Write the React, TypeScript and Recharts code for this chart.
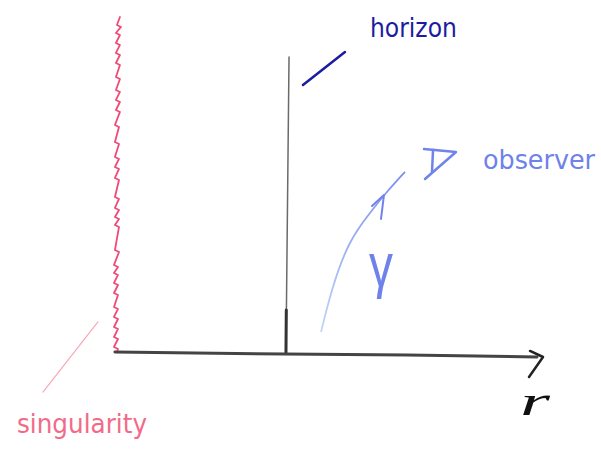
import React from 'react';
import { LineChart, Line, XAxis, YAxis, ReferenceDot } from 'recharts';

// units: r in M (horizon at r = 2), t in the same units
const rAxis = [
  { r: -0.024, t: 0 },
  { r: 1.976, t: -0.024 },
  { r: 3.412, t: -0.035 },
  { r: 4.941, t: -0.059 },
];
const rArrow = [
  { r: 4.859, t: 0.012 },
  { r: 5.012, t: -0.059 },
  { r: 4.847, t: -0.294 },
];
const horizonLine = [
  { r: 2.024, t: 3.471 },
  { r: 1.988, t: -0.012 },
];
const horizonBase = [
  { r: 1.992, t: 0.494 },
  { r: 1.988, t: -0.012 },
];
const horizonPointer = [
  { r: 2.188, t: 3.141 },
  { r: 2.682, t: 3.529 },
];
// wavy line at r = 0
const singularity = [
  { r: 0.0, t: 0.0 },
  { r: 0.012, t: 0.035 }, { r: -0.035, t: 0.059 },
  { r: 0.012, t: 0.153 }, { r: -0.035, t: 0.176 },
  { r: 0.012, t: 0.271 }, { r: -0.035, t: 0.294 },
  { r: 0.012, t: 0.388 }, { r: -0.035, t: 0.412 },
  { r: 0.012, t: 0.506 }, { r: -0.035, t: 0.529 },
  { r: 0.012, t: 0.671 }, { r: -0.035, t: 0.694 },
  { r: 0.012, t: 0.788 }, { r: -0.035, t: 0.812 },
  { r: 0.012, t: 0.906 }, { r: -0.035, t: 0.929 },
  { r: 0.012, t: 1.0 }, { r: -0.035, t: 1.024 },
  { r: 0.024, t: 1.176 }, { r: -0.024, t: 1.2 },
  { r: 0.024, t: 1.471 }, { r: -0.024, t: 1.494 },
  { r: 0.024, t: 1.565 }, { r: -0.024, t: 1.588 },
  { r: 0.024, t: 1.671 }, { r: -0.024, t: 1.694 },
  { r: 0.024, t: 1.8 }, { r: -0.024, t: 1.824 },
  { r: 0.024, t: 2.024 }, { r: -0.024, t: 2.047 },
  { r: 0.024, t: 2.153 }, { r: -0.024, t: 2.176 },
  { r: 0.024, t: 2.271 }, { r: -0.024, t: 2.294 },
  { r: 0.024, t: 2.447 }, { r: -0.024, t: 2.471 },
  { r: 0.024, t: 2.647 }, { r: -0.024, t: 2.671 },
  { r: 0.035, t: 2.824 }, { r: -0.012, t: 2.847 },
  { r: 0.035, t: 2.941 }, { r: -0.012, t: 2.965 },
  { r: 0.035, t: 3.059 }, { r: -0.012, t: 3.082 },
  { r: 0.035, t: 3.212 }, { r: -0.012, t: 3.235 },
  { r: 0.035, t: 3.376 }, { r: -0.012, t: 3.4 },
  { r: 0.035, t: 3.494 }, { r: -0.012, t: 3.518 },
  { r: 0.035, t: 3.612 }, { r: -0.012, t: 3.635 },
  { r: 0.035, t: 3.729 }, { r: -0.012, t: 3.753 },
  { r: 0.047, t: 3.824 }, { r: 0.0, t: 3.847 },
  { r: 0.035, t: 3.941 },
];
const singularityPointer = [
  { r: -0.224, t: 0.353 },
  { r: -0.871, t: -0.471 },
];
const gamma = [
  { r: 2.4, t: 0.235 },
  { r: 2.541, t: 0.765 },
  { r: 2.741, t: 1.282 },
  { r: 2.976, t: 1.635 },
  { r: 3.176, t: 1.882 },
  { r: 3.388, t: 2.118 },
];
const gammaArrow = [
  { r: 3.0, t: 1.718 },
  { r: 3.141, t: 1.847 },
  { r: 3.106, t: 1.565 },
];
const observerFlag = [
  { r: 3.612, t: 2.388 },
  { r: 3.988, t: 2.353 },
  { r: 3.624, t: 2.035 },
];
const observerStem = [
  { r: 3.718, t: 2.376 },
  { r: 3.706, t: 2.118 },
];

// text labels: anchor at start of baseline
const labels = [
  { text: 'horizon', r: 2.976, t: 3.706, color: '#1c1ca0', size: 26, len: 87, font: 'DejaVu Sans', italic: false },
  { text: 'observer', r: 4.306, t: 2.153, color: '#6e82ea', size: 26, len: 112, font: 'DejaVu Sans', italic: false },
  { text: 'singularity', r: -1.176, t: -0.953, color: '#f36a88', size: 26, len: 130, font: 'DejaVu Sans', italic: false },
  { text: 'γ', r: 2.965, t: 0.776, color: '#6e82ea', size: 62, len: 24, font: 'Liberation Sans', italic: false },
  { text: 'r', r: 4.741, t: -0.741, color: '#111111', size: 40, len: 30, font: 'Liberation Serif', italic: true },
];

const line = (key: string, data: { r: number; t: number }[], stroke: string, width: number) => (
  <Line
    key={key}
    data={data}
    dataKey="t"
    type="linear"
    stroke={stroke}
    strokeWidth={width}
    strokeLinecap="round"
    strokeLinejoin="round"
    dot={false}
    activeDot={false}
    isAnimationActive={false}
  />
);

export default function App() {
  return (
    <div style={{ position: 'absolute', left: 0, top: 0, background: '#fff' }}>
      <LineChart width={601} height={455} margin={{ top: 0, right: 0, bottom: 0, left: 0 }}>
        <defs>
          <linearGradient id="gammaFade" x1="0" y1="0" x2="0" y2="1">
            <stop offset="0%" stopColor="#7a90ec" />
            <stop offset="100%" stopColor="#c4d6f8" />
          </linearGradient>
        </defs>
        <XAxis type="number" dataKey="r" domain={[-1.376, 5.694]} allowDataOverflow hide />
        <YAxis type="number" dataKey="t" domain={[-1.212, 4.141]} allowDataOverflow hide />
        {line('singularity', singularity, '#f04a78', 1.8)}
        {line('singularityPointer', singularityPointer, '#f8a8b8', 1.2)}
        {line('horizonLine', horizonLine, '#6a6a6a', 1.5)}
        {line('horizonBase', horizonBase, '#333333', 3)}
        {line('rAxis', rAxis, '#444444', 3)}
        {line('rArrow', rArrow, '#222222', 2.5)}
        {line('horizonPointer', horizonPointer, '#1c1ca0', 2.5)}
        <Line
          data={gamma}
          dataKey="t"
          type="natural"
          stroke="url(#gammaFade)"
          strokeWidth={1.8}
          dot={false}
          activeDot={false}
          isAnimationActive={false}
        />
        {line('gammaArrow', gammaArrow, '#6f84ea', 2)}
        {line('observerFlag', observerFlag, '#6f84ea', 2.5)}
        {line('observerStem', observerStem, '#6f84ea', 2.5)}
        {labels.map((l) => (
          <ReferenceDot
            key={l.text}
            x={l.r}
            y={l.t}
            r={0}
            fill="none"
            stroke="none"
            label={({ viewBox }: any) => (
              <text
                x={viewBox.x}
                y={viewBox.y}
                fill={l.color}
                fontSize={l.size}
                fontFamily={l.font}
                fontStyle={l.italic ? 'italic' : 'normal'}
                textLength={l.len}
                lengthAdjust="spacingAndGlyphs"
              >
                {l.text}
              </text>
            )}
          />
        ))}
      </LineChart>
    </div>
  );
}
